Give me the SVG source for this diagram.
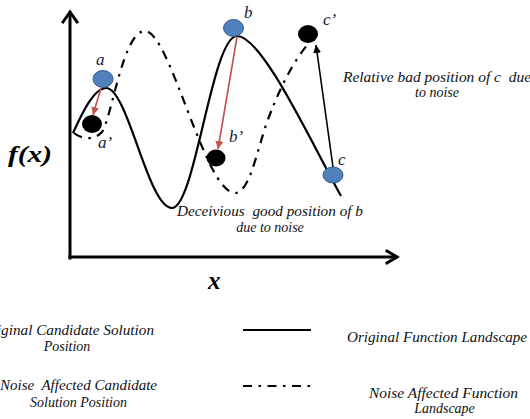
<svg xmlns="http://www.w3.org/2000/svg" width="530" height="419" viewBox="0 0 530 419">
<defs>
<marker id="arrRed" markerUnits="userSpaceOnUse" markerWidth="8" markerHeight="8" viewBox="0 0 8 8" refX="8" refY="4" orient="auto">
<path d="M0,0 L8,4 L0,8 z" fill="#c0504d"/>
</marker>
<marker id="arrBlk" markerUnits="userSpaceOnUse" markerWidth="8" markerHeight="8" viewBox="0 0 8 8" refX="8" refY="4" orient="auto">
<path d="M0,0 L8,4 L0,8 z" fill="#000"/>
</marker>
</defs>
<style>
.axis{fill:none;stroke:#000;stroke-width:3;stroke-linecap:square}
.solid{fill:none;stroke:#000;stroke-width:2.2}
.dashdot{fill:none;stroke:#000;stroke-width:2.2;stroke-dasharray:9 6.5 2.5 6.5}
.orig{fill:#4f81bd;stroke:#385d8a;stroke-width:1}
.noisy{fill:#000}
text{font-family:'Liberation Serif','Times New Roman',serif;font-style:italic}
.txt{font-size:14px;fill:#111}
.lbl{font-size:17px;fill:#1a1a33}
.axl{font-weight:bold;fill:#000}
.red{stroke:#c0504d;stroke-width:1.6;fill:none}
</style>
<rect width="530" height="419" fill="#fff"/>

<g id="axes">
<path class="axis" d="M70,258 L70,13"/>
<path class="axis" d="M63,22 L70,12 L77,22"/>
<path class="axis" d="M70,257 L396,257"/>
<path class="axis" d="M387,251 L397,257 L387,263"/>
<text class="axl" x="8" y="162" font-size="24" textLength="44" lengthAdjust="spacingAndGlyphs">f(x)</text>
<text class="axl" x="208" y="289" font-size="25">x</text>
</g>

<g id="curves">
<path id="original-landscape" class="solid" d="M73,133 C80,118 93,88 106,88 C128,88 148,208 172,208 C195,208 212,36 237,36 C262,36 310,140 341,196"/>
<path id="noise-landscape" class="dashdot" d="M74,133 C80,138 93,142 102,132 C112,117 123,31 145,31 C170,31 205,193 235,193 C248,193 255,160 265,128 C278,90 295,58 310,42"/>
</g>

<g id="node-a">
<ellipse class="orig" cx="103" cy="79" rx="10" ry="8.5"/>
<text class="lbl" x="96" y="65">a</text>
</g>
<g id="node-a-prime">
<ellipse class="noisy" cx="92" cy="124" rx="10" ry="9"/>
<text class="lbl" x="98" y="148">a’</text>
</g>
<g id="node-b">
<ellipse class="orig" cx="233.5" cy="28" rx="10" ry="8.5"/>
<text class="lbl" x="244" y="18">b</text>
</g>
<g id="node-b-prime">
<ellipse class="noisy" cx="216" cy="158" rx="9.5" ry="8.5"/>
<text class="lbl" x="229" y="142">b’</text>
</g>
<g id="node-c">
<ellipse class="orig" cx="333" cy="175" rx="10" ry="8"/>
<text class="lbl" x="338" y="165">c</text>
</g>
<g id="node-c-prime">
<ellipse class="noisy" cx="308" cy="34" rx="10" ry="9"/>
<text class="lbl" x="323" y="25">c’</text>
</g>

<g id="connectors">
<line class="red" x1="101" y1="88" x2="93" y2="115" marker-end="url(#arrRed)"/>
<line class="red" x1="237" y1="37" x2="218" y2="149" marker-end="url(#arrRed)"/>
<line x1="333" y1="167" x2="316" y2="45" stroke="#000" stroke-width="1.6" marker-end="url(#arrBlk)"/>
</g>

<g id="annotations">
<text class="txt" x="437" y="82" text-anchor="middle" textLength="188" lengthAdjust="spacingAndGlyphs" xml:space="preserve">Relative bad position of c  due</text>
<text class="txt" x="437" y="97" text-anchor="middle">to noise</text>
<text class="txt" x="270" y="216" text-anchor="middle" textLength="186" lengthAdjust="spacingAndGlyphs" xml:space="preserve">Deceivious  good position of b</text>
<text class="txt" x="270" y="232" text-anchor="middle">due to noise</text>
</g>

<g id="legend">
<text class="txt" x="67" y="335" text-anchor="middle" textLength="174" lengthAdjust="spacingAndGlyphs">Original Candidate Solution</text>
<text class="txt" x="67" y="351" text-anchor="middle">Position</text>
<text class="txt" x="78.5" y="390" text-anchor="middle" textLength="157" lengthAdjust="spacingAndGlyphs" xml:space="preserve">Noise  Affected Candidate</text>
<text class="txt" x="78.5" y="407" text-anchor="middle">Solution Position</text>
<line class="solid" x1="243" y1="330" x2="311" y2="330" stroke-width="2.5"/>
<line class="dashdot" x1="243" y1="386" x2="311" y2="386" stroke-width="2.5"/>
<text class="txt" x="437" y="342" text-anchor="middle" textLength="180" lengthAdjust="spacingAndGlyphs">Original Function Landscape</text>
<text class="txt" x="443.5" y="398" text-anchor="middle" textLength="149" lengthAdjust="spacingAndGlyphs">Noise Affected Function</text>
<text class="txt" x="444.5" y="413" text-anchor="middle">Landscape</text>
</g>
</svg>
